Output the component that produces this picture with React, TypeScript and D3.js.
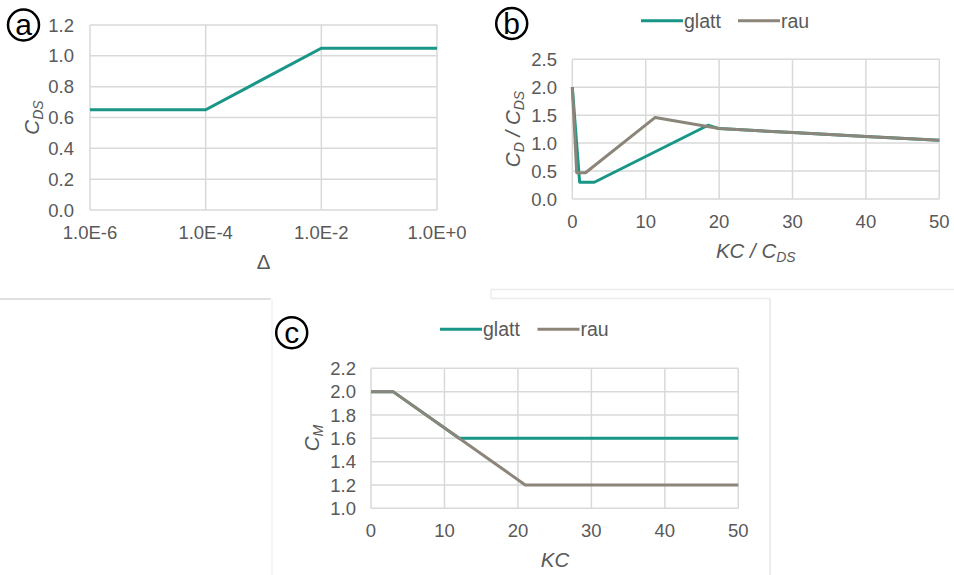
import React from 'react'
import * as d3 from 'd3'

// panel a: C_DS over roughness Δ (log axis)
const deltaVals = [1e-6, 1e-4, 1e-2, 1]
const cdsVals = [0.65, 0.65, 1.05, 1.05]
const deltaTicks = [1e-6, 1e-4, 1e-2, 1]
const deltaTickLabels = ['1.0E-6', '1.0E-4', '1.0E-2', '1.0E+0']

// panel b: C_D / C_DS over KC / C_DS
const kcCdsGlatt = [0, 1, 3, 18.5, 20, 30, 40, 50]
const cdGlatt = [2.0, 0.3, 0.3, 1.32, 1.26, 1.19, 1.12, 1.05]
const kcCdsRau = [0, 0.6, 1.8, 11.3, 20, 30, 40, 50]
const cdRau = [2.0, 0.47, 0.47, 1.46, 1.26, 1.19, 1.12, 1.05]

// panel c: C_M over KC
const kcGlatt = [0, 3, 12, 50]
const cmGlatt = [2.0, 2.0, 1.6, 1.6]
const kcRau = [0, 3, 21, 50]
const cmRau = [2.0, 2.0, 1.2, 1.2]

const seriesNames = ['glatt', 'rau']
const TEAL = '#199687'
const BROWN = '#8c8579'
const GRID = '#d9d9d9'
const TXT = '#595959'
const FONT = 'Liberation Sans, Arial, sans-serif'
const TICK_FS = 18.5
const TITLE_FS = 20.5
const SUB_FS = 14

type Pt = [number, number]
const zip = (xs: number[], ys: number[]): Pt[] => xs.map((x, i) => [x, ys[i]])

function Badge({ cx, cy, letter }: { cx: number; cy: number; letter: string }) {
  return (
    <g>
      <circle cx={cx} cy={cy} r={15.5} fill="white" stroke="black" strokeWidth={2.5} />
      <text x={cx} y={cy + 10} textAnchor="middle" fontSize={30} fontFamily={FONT} fill="black">{letter}</text>
    </g>
  )
}

function Legend({ x1, x2, y }: { x1: number; x2: number; y: number }) {
  const cols = [TEAL, BROWN]
  return (
    <g>
      {seriesNames.map((n, i) => {
        const x = i === 0 ? x1 : x2
        return (
          <g key={n}>
            <line x1={x} x2={x + 42} y1={y} y2={y} stroke={cols[i]} strokeWidth={3} />
            <text x={x + 43} y={y + 7} fontSize={19.5} fontFamily={FONT} fill={TXT}>{n}</text>
          </g>
        )
      })}
    </g>
  )
}

export default function App() {
  // ---- panel a
  const xa = d3.scaleLog().domain([1e-6, 1]).range([90, 437])
  const ya = d3.scaleLinear().domain([0, 1.2]).range([210, 25])
  const yaTicks = d3.range(0, 1.21, 0.2)

  // ---- panel b
  const xb = d3.scaleLinear().domain([0, 50]).range([572.3, 939.3])
  const yb = d3.scaleLinear().domain([0, 2.5]).range([199, 59.3])
  const xbTicks = d3.range(0, 51, 10)
  const ybTicks = d3.range(0, 2.51, 0.5)

  // ---- panel c
  const xc = d3.scaleLinear().domain([0, 50]).range([371, 738.3])
  const yc = d3.scaleLinear().domain([1.0, 2.2]).range([508.3, 368.3])
  const xcTicks = d3.range(0, 51, 10)
  const ycTicks = d3.range(1.0, 2.21, 0.2)

  const lineA = d3.line<Pt>().x(d => xa(d[0])).y(d => ya(d[1]))
  const lineB = d3.line<Pt>().x(d => xb(d[0])).y(d => yb(d[1]))
  const lineC = d3.line<Pt>().x(d => xc(d[0])).y(d => yc(d[1]))

  return (
    <svg width={954} height={575} style={{ position: 'absolute', left: 0, top: 0, background: 'white' }}>
      <rect width={954} height={575} fill="white" />

      {/* faint panel borders from the composed figure */}
      <line x1={0} x2={271} y1={299} y2={299} stroke="#d6d6d6" strokeWidth={1.5} />
      <line x1={491} x2={954} y1={289.5} y2={289.5} stroke="#ececec" strokeWidth={1.5} />
      <line x1={491} x2={491} y1={289.5} y2={298.5} stroke="#ececec" strokeWidth={1.5} />
      <line x1={491} x2={770} y1={298.5} y2={298.5} stroke="#ececec" strokeWidth={1.5} />
      <line x1={770} x2={770} y1={298.5} y2={575} stroke="#e6e6e6" strokeWidth={1.5} />
      <line x1={272} x2={272} y1={300} y2={575} stroke="#f0f0f0" strokeWidth={1.5} />

      {/* ===== panel a ===== */}
      <g fontFamily={FONT} fill={TXT}>
        {yaTicks.map(t => (
          <g key={'ay' + t}>
            <line x1={90} x2={437} y1={ya(t)} y2={ya(t)} stroke={GRID} strokeWidth={1.5} />
            <text x={74} y={ya(t)} dy="0.36em" textAnchor="end" fontSize={TICK_FS}>{t.toFixed(1)}</text>
          </g>
        ))}
        {deltaTicks.map((t, i) => (
          <g key={'ax' + t}>
            <line x1={xa(t)} x2={xa(t)} y1={25} y2={210} stroke={GRID} strokeWidth={1.5} />
            <text x={xa(t)} y={239} textAnchor="middle" fontSize={TICK_FS}>{deltaTickLabels[i]}</text>
          </g>
        ))}
        <path d={lineA(zip(deltaVals, cdsVals)) || ''} fill="none" stroke={TEAL} strokeWidth={3} />
        <text x={263.5} y={269} textAnchor="middle" fontSize={TITLE_FS}>Δ</text>
        <text transform="translate(39,117.5) rotate(-90)" textAnchor="middle" fontSize={TITLE_FS} fontStyle="italic">
          C<tspan fontSize={SUB_FS} dy={4}>DS</tspan>
        </text>
      </g>
      <Badge cx={23.5} cy={25} letter="a" />

      {/* ===== panel b ===== */}
      <g fontFamily={FONT} fill={TXT}>
        {ybTicks.map(t => (
          <g key={'by' + t}>
            <line x1={572.3} x2={939.3} y1={yb(t)} y2={yb(t)} stroke={GRID} strokeWidth={1.5} />
            <text x={557} y={yb(t)} dy="0.36em" textAnchor="end" fontSize={TICK_FS}>{t.toFixed(1)}</text>
          </g>
        ))}
        {xbTicks.map(t => (
          <g key={'bx' + t}>
            <line x1={xb(t)} x2={xb(t)} y1={59.3} y2={199} stroke={GRID} strokeWidth={1.5} />
            <text x={xb(t)} y={228} textAnchor="middle" fontSize={TICK_FS}>{t}</text>
          </g>
        ))}
        <path d={lineB(zip(kcCdsGlatt, cdGlatt)) || ''} fill="none" stroke={TEAL} strokeWidth={3} strokeLinejoin="round" />
        <path d={lineB(zip(kcCdsRau, cdRau)) || ''} fill="none" stroke={BROWN} strokeWidth={3} strokeLinejoin="round" />
        <text x={755.8} y={258} textAnchor="middle" fontSize={TITLE_FS} fontStyle="italic">
          KC / C<tspan fontSize={SUB_FS} dy={4}>DS</tspan>
        </text>
        <text transform="translate(520,129) rotate(-90)" textAnchor="middle" fontSize={TITLE_FS} fontStyle="italic">
          C<tspan fontSize={SUB_FS} dy={4}>D</tspan><tspan dy={-4}> / C</tspan><tspan fontSize={SUB_FS} dy={4}>DS</tspan>
        </text>
      </g>
      <Legend x1={641} x2={738} y={20.7} />
      <Badge cx={511.7} cy={23.5} letter="b" />

      {/* ===== panel c ===== */}
      <g fontFamily={FONT} fill={TXT}>
        {ycTicks.map(t => (
          <g key={'cy' + t}>
            <line x1={371} x2={738.3} y1={yc(t)} y2={yc(t)} stroke={GRID} strokeWidth={1.5} />
            <text x={356} y={yc(t)} dy="0.36em" textAnchor="end" fontSize={TICK_FS}>{t.toFixed(1)}</text>
          </g>
        ))}
        {xcTicks.map(t => (
          <g key={'cx' + t}>
            <line x1={xc(t)} x2={xc(t)} y1={368.3} y2={508.3} stroke={GRID} strokeWidth={1.5} />
            <text x={xc(t)} y={537} textAnchor="middle" fontSize={TICK_FS}>{t}</text>
          </g>
        ))}
        <path d={lineC(zip(kcGlatt, cmGlatt)) || ''} fill="none" stroke={TEAL} strokeWidth={3} />
        <path d={lineC(zip(kcRau, cmRau)) || ''} fill="none" stroke={BROWN} strokeWidth={3} />
        <text x={555} y={567} textAnchor="middle" fontSize={TITLE_FS} fontStyle="italic">KC</text>
        <text transform="translate(319,438) rotate(-90)" textAnchor="middle" fontSize={TITLE_FS} fontStyle="italic">
          C<tspan fontSize={SUB_FS} dy={4}>M</tspan>
        </text>
      </g>
      <Legend x1={440} x2={537.5} y={329.3} />
      <Badge cx={291.7} cy={332.7} letter="c" />
    </svg>
  )
}
